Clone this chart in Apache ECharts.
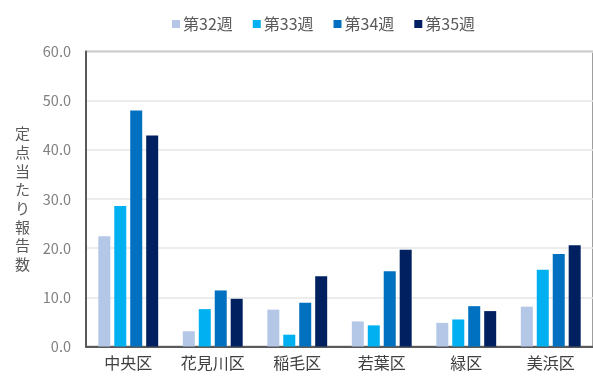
<!DOCTYPE html>
<html><head><meta charset="utf-8">
<script src="https://cdn.jsdelivr.net/npm/echarts@6/dist/echarts.min.js"></script>
<style>html,body{margin:0;padding:0;background:#fff}#c{width:593px;height:376px}</style>
</head><body><div id="c"></div>
<script>
const categories = ['中央区','花見川区','稲毛区','若葉区','緑区','美浜区'];
const seriesNames = ['第32週','第33週','第34週','第35週'];
const w32 = [22.4, 3.1, 7.5, 5.1, 4.8, 8.1];
const w33 = [28.6, 7.6, 2.4, 4.3, 5.5, 15.6];
const w34 = [48.0, 11.4, 8.9, 15.3, 8.2, 18.8];
const w35 = [42.9, 9.7, 14.3, 19.7, 7.2, 20.6];
const yTicks = [0, 10, 20, 30, 40, 50, 60];
const yName = '定点当たり報告数';
const colors = ['#B4C7E7','#00B0F0','#0070C0','#002060'];
const values = [w32, w33, w34, w35];
const font = '"Noto Sans CJK JP", "Noto Sans", sans-serif';

const chart = echarts.init(document.getElementById('c'));
chart.setOption({
  animation: false,
  color: colors,
  textStyle: {fontFamily: font},
  legend: {
    top: 11, left: 167,
    itemWidth: 8, itemHeight: 8, itemGap: 20,
    icon: 'rect',
    textStyle: {color: '#595959', fontSize: 16, fontFamily: font, padding: [0,0,0,-2]},
    data: seriesNames
  },
  grid: {left: 86, right: -11, top: 51.5, bottom: 29.5, show: true, borderColor: '#7f7f7f', borderWidth: 1.5, containLabel: false},
  xAxis: {
    type: 'category', data: categories,
    axisLine: {lineStyle: {color: '#595959', width: 2}},
    axisTick: {show: false},
    axisLabel: {color: '#404040', fontSize: 16, margin: 8, fontFamily: font}
  },
  yAxis: {
    type: 'value', min: yTicks[0], max: yTicks[yTicks.length-1], interval: 10,
    name: yName.split('').join('\n'),
    nameLocation: 'middle', nameRotate: 0, nameGap: 56,
    nameTextStyle: {color: '#595959', fontSize: 15, lineHeight: 18.7, fontFamily: font},
    axisLine: {show: true, lineStyle: {color: '#595959', width: 2}},
    axisTick: {show: false},
    axisLabel: {color: '#808080', fontSize: 14.5, margin: 15, formatter: v => v.toFixed(1), fontFamily: font},
    splitLine: {lineStyle: {color: '#e6e6e6', width: 1.5}}
  },
  series: seriesNames.map((n, i) => ({
    name: n, type: 'bar', data: values[i],
    barWidth: 12, barGap: '33%',
    itemStyle: {color: colors[i]}
  }))
});
</script></body></html>
